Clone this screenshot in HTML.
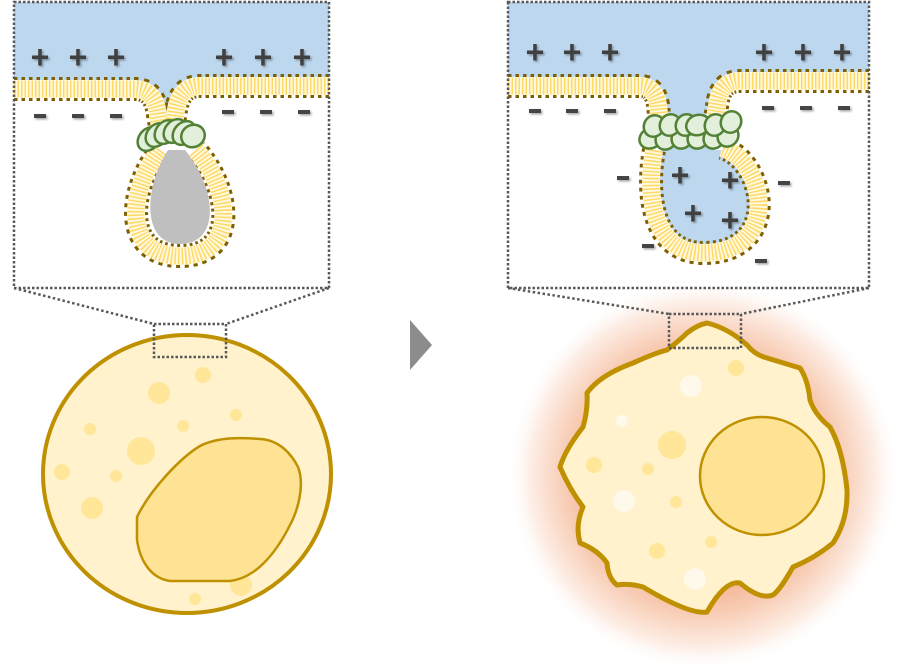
<!DOCTYPE html>
<html><head><meta charset="utf-8"><style>
html,body{margin:0;padding:0;background:#fff}
svg{display:block}
.p{font:bold 32px "Liberation Sans",sans-serif;fill:#404040}
</style></head><body>
<svg width="898" height="670" viewBox="0 0 898 670" xmlns="http://www.w3.org/2000/svg">
<defs>
<radialGradient id="glow" cx="0.5" cy="0.5" r="0.5">
<stop offset="0.45" stop-color="#f2a27a"/>
<stop offset="0.7" stop-color="#f8ccb4"/>
<stop offset="0.88" stop-color="#fdeee6"/>
<stop offset="1" stop-color="#fff" stop-opacity="0"/>
</radialGradient>
<filter id="sh" x="-20%" y="-20%" width="160%" height="160%"><feDropShadow dx="1.5" dy="1.5" stdDeviation="1" flood-color="#000" flood-opacity="0.35"/></filter>
</defs>

<!-- LEFT PANEL -->
<rect x="14" y="2" width="315" height="286" fill="#fff"/>
<path d="M14,2 H329 V86 H200 Q180,86 176,110 L172,140 L160,140 L158,115 Q155,89 135,89 H14 Z" fill="#bdd7ee"/>
<g fill="none" stroke-linecap="butt">
 <g stroke="#7f6000" stroke-width="24" stroke-dasharray="3.5 4">
  <path d="M14,89 H135 Q155,89 158,115 L162,138"/>
  <path d="M329,86 H200 Q180,86 176,110 L172,138"/>
  <path d="M160,150 C128,190 122,256 180,256 C238,256 232,190 196,150"/>
 </g>
 <g stroke="#fff9e0" stroke-width="18">
  <path d="M14,89 H135 Q155,89 158,115 L162,138"/>
  <path d="M329,86 H200 Q180,86 176,110 L172,138"/>
  <path d="M160,150 C128,190 122,256 180,256 C238,256 232,190 196,150"/>
 </g>
 <g stroke="#ffd966" stroke-width="17" stroke-dasharray="1.5 2">
  <path d="M14,89 H135 Q155,89 158,115 L162,138"/>
  <path d="M329,86 H200 Q180,86 176,110 L172,138"/>
  <path d="M160,150 C128,190 122,256 180,256 C238,256 232,190 196,150"/>
 </g>
</g>
<path d="M168,150 C145,185 140,244 180,244 C220,244 218,190 185,150 Z" fill="#bfbfbf"/>
<g stroke="#538135" stroke-width="2.5" fill="#e2efda">
 <ellipse cx="149" cy="139" rx="10" ry="13" transform="rotate(40 149 139)"/>
 <ellipse cx="157" cy="135" rx="10" ry="13" transform="rotate(40 157 135)"/>
 <ellipse cx="166" cy="132" rx="10" ry="13" transform="rotate(40 166 132)"/>
 <ellipse cx="175" cy="131" rx="10" ry="13" transform="rotate(40 175 131)"/>
 <ellipse cx="184" cy="133" rx="10" ry="13" transform="rotate(40 184 133)"/>
 <ellipse cx="193" cy="136" rx="11" ry="12" transform="rotate(60 193 136)"/>
</g>
<g filter="url(#sh)">
 <text class="p" x="40" y="68" text-anchor="middle">+</text>
 <text class="p" x="78" y="68" text-anchor="middle">+</text>
 <text class="p" x="116" y="68" text-anchor="middle">+</text>
 <text class="p" x="224" y="68" text-anchor="middle">+</text>
 <text class="p" x="263" y="68" text-anchor="middle">+</text>
 <text class="p" x="302" y="68" text-anchor="middle">+</text>
 <g fill="#444">
  <rect x="34" y="114" width="12" height="4"/><rect x="72" y="114" width="12" height="4"/><rect x="110" y="114" width="12" height="4"/>
  <rect x="222" y="110" width="12" height="4"/><rect x="260" y="110" width="12" height="4"/><rect x="298" y="110" width="12" height="4"/>
 </g>
</g>
<rect x="14" y="2" width="315" height="286" fill="none" stroke="#595959" stroke-width="2.5" stroke-dasharray="2.5 2"/>
<g stroke="#595959" stroke-width="2.5" stroke-dasharray="2.5 2.5" fill="none">
 <path d="M14,288 L154,324 M329,288 L226,324"/>
</g>

<!-- left cell -->
<ellipse cx="187" cy="474" rx="144" ry="139" fill="#fff2cc" stroke="#bf9000" stroke-width="4"/>
<g fill="#ffe699">
 <circle cx="159" cy="393" r="11"/><circle cx="203" cy="375" r="8"/><circle cx="236" cy="415" r="6"/>
 <circle cx="183" cy="426" r="6"/><circle cx="90" cy="429" r="6"/><circle cx="141" cy="451" r="14"/>
 <circle cx="62" cy="472" r="8"/><circle cx="116" cy="476" r="6"/><circle cx="92" cy="508" r="11"/>
 <circle cx="241" cy="585" r="11"/><circle cx="195" cy="599" r="6"/>
</g>
<path d="M137,517 C150,490 180,458 200,446 C220,436 245,438 260,439 C280,440 292,455 298,467 C305,485 298,510 290,525 C275,555 255,578 230,581 L170,581 C150,578 140,560 137,540 Z" fill="#ffe394" stroke="#bf9000" stroke-width="2.5"/>
<rect x="154" y="324" width="72" height="33" fill="none" stroke="#595959" stroke-width="2.5" stroke-dasharray="2.5 2"/>

<!-- arrow -->
<polygon points="410,320 432,345 410,370" fill="#8c8c8c"/>

<!-- RIGHT glow + cell -->
<circle cx="703" cy="475" r="197" fill="url(#glow)"/>
<path d="M707,323 Q728,328 747,345 Q755,355 767,358 L800,368 Q808,380 810,400 Q815,415 830,427 Q843,450 847,490 Q848,520 833,543 Q815,558 793,567 Q780,590 773,595 Q760,600 740,583 Q725,580 707,612 Q690,615 643,587 Q630,583 617,585 Q608,578 607,563 Q598,550 580,543 Q575,525 583,507 Q570,490 560,467 Q565,450 583,427 Q588,410 587,393 Q600,375 633,363 Q655,353 667,350 Q680,340 687,333 Q697,325 707,323 Z" fill="#fff2cc" stroke="#bf9000" stroke-width="5" stroke-linejoin="round"/>
<g fill="#ffe699">
 <circle cx="736" cy="368" r="8"/><circle cx="672" cy="445" r="14"/><circle cx="594" cy="465" r="8"/>
 <circle cx="648" cy="469" r="6"/><circle cx="676" cy="502" r="6"/><circle cx="711" cy="542" r="6"/><circle cx="657" cy="551" r="8"/>
</g>
<g fill="#fff9ec">
 <circle cx="691" cy="386" r="11"/><circle cx="622" cy="421" r="6"/><circle cx="624" cy="501" r="11"/><circle cx="695" cy="579" r="11"/>
</g>
<ellipse cx="762" cy="476" rx="62" ry="59" fill="#ffe394" stroke="#bf9000" stroke-width="2.5"/>

<!-- RIGHT PANEL -->
<rect x="508" y="2" width="361" height="286" fill="#fff"/>
<path d="M508,2 H869 V81 H740 Q722,81 718,100 L714,150 L660,150 L658,105 Q655,86 640,86 H508 Z" fill="#bdd7ee"/>
<path d="M662,150 C655,200 665,245 705,245 C750,245 760,200 740,170 Q732,155 720,150 Z" fill="#bdd7ee"/>
<g fill="none">
 <g stroke="#7f6000" stroke-width="24" stroke-dasharray="3.5 4">
  <path d="M508,86 H640 Q655,86 658,105 L660,125"/>
  <path d="M869,81 H740 Q722,81 718,100 L714,125"/>
  <path d="M654,150 C645,200 655,254 705,253 C762,252 770,200 746,166 Q736,152 722,148"/>
 </g>
 <g stroke="#fff9e0" stroke-width="18">
  <path d="M508,86 H640 Q655,86 658,105 L660,125"/>
  <path d="M869,81 H740 Q722,81 718,100 L714,125"/>
  <path d="M654,150 C645,200 655,254 705,253 C762,252 770,200 746,166 Q736,152 722,148"/>
 </g>
 <g stroke="#ffd966" stroke-width="17" stroke-dasharray="1.5 2">
  <path d="M508,86 H640 Q655,86 658,105 L660,125"/>
  <path d="M869,81 H740 Q722,81 718,100 L714,125"/>
  <path d="M654,150 C645,200 655,254 705,253 C762,252 770,200 746,166 Q736,152 722,148"/>
 </g>
</g>
<g stroke="#538135" stroke-width="2.5" fill="#e2efda">
 <ellipse cx="651" cy="138" rx="12" ry="10" transform="rotate(-30 651 138)"/>
 <ellipse cx="666" cy="139" rx="11" ry="10" transform="rotate(-50 666 139)"/>
 <ellipse cx="682" cy="138" rx="11" ry="10" transform="rotate(-50 682 138)"/>
 <ellipse cx="698" cy="138" rx="11" ry="10" transform="rotate(-50 698 138)"/>
 <ellipse cx="714" cy="138" rx="11" ry="10" transform="rotate(-50 714 138)"/>
 <ellipse cx="728" cy="136" rx="11" ry="10" transform="rotate(-50 728 136)"/>
 <ellipse cx="654" cy="126" rx="11" ry="10" transform="rotate(-60 654 126)"/>
 <ellipse cx="670" cy="125" rx="11" ry="10" transform="rotate(-60 670 125)"/>
 <ellipse cx="686" cy="125" rx="11" ry="10" transform="rotate(-60 686 125)"/>
 <ellipse cx="698" cy="125" rx="12" ry="10" transform="rotate(-20 698 125)"/>
 <ellipse cx="715" cy="125" rx="11" ry="10" transform="rotate(-60 715 125)"/>
 <ellipse cx="731" cy="122" rx="11" ry="10" transform="rotate(-60 731 122)"/>
</g>
<g filter="url(#sh)">
 <text class="p" x="535" y="63" text-anchor="middle">+</text>
 <text class="p" x="572" y="63" text-anchor="middle">+</text>
 <text class="p" x="610" y="63" text-anchor="middle">+</text>
 <text class="p" x="764" y="63" text-anchor="middle">+</text>
 <text class="p" x="803" y="63" text-anchor="middle">+</text>
 <text class="p" x="842" y="63" text-anchor="middle">+</text>
 <text class="p" x="680" y="186" text-anchor="middle">+</text>
 <text class="p" x="730" y="191" text-anchor="middle">+</text>
 <text class="p" x="693" y="224" text-anchor="middle">+</text>
 <text class="p" x="730" y="231" text-anchor="middle">+</text>
 <g fill="#444">
  <rect x="529" y="109" width="12" height="4"/><rect x="566" y="109" width="12" height="4"/><rect x="604" y="109" width="12" height="4"/>
  <rect x="762" y="106" width="12" height="4"/><rect x="800" y="106" width="12" height="4"/><rect x="838" y="106" width="12" height="4"/>
  <rect x="617" y="176" width="12" height="4"/><rect x="778" y="181" width="12" height="4"/>
  <rect x="642" y="244" width="12" height="4"/><rect x="755" y="259" width="12" height="4"/>
 </g>
</g>
<rect x="508" y="2" width="361" height="286" fill="none" stroke="#595959" stroke-width="2.5" stroke-dasharray="2.5 2"/>
<g stroke="#595959" stroke-width="2.5" stroke-dasharray="2.5 2.5" fill="none">
 <path d="M508,288 L669,314 M869,288 L741,314"/>
</g>
<rect x="669" y="314" width="72" height="34" fill="none" stroke="#595959" stroke-width="2.5" stroke-dasharray="2.5 2"/>
</svg>
</body></html>
